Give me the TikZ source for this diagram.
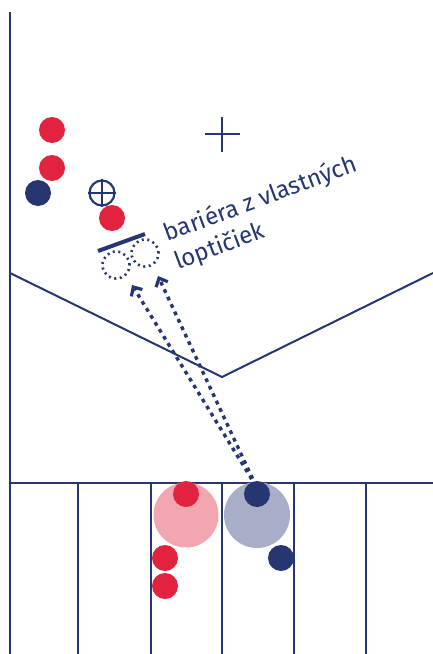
\documentclass[tikz,border=0pt]{standalone}
\usepackage{fontspec}
\setmainfont{Fira Sans}
\usetikzlibrary{arrows.meta}
\definecolor{navy}{HTML}{253670}
\definecolor{ballred}{HTML}{E2233F}
\definecolor{pink}{HTML}{F2A7B0}
\definecolor{greyb}{HTML}{A8AEC7}
\tikzset{
  frame/.style={draw=navy, line width=2pt},
  redball/.style={circle, fill=ballred, minimum size=26pt, inner sep=0pt},
  navyball/.style={circle, fill=navy, minimum size=26pt, inner sep=0pt},
  ghost/.style={circle, draw=navy, line width=2.6pt, dash pattern=on 2pt off 3.6pt, minimum size=27pt, inner sep=0pt},
  shot/.style={draw=navy, line width=3.4pt, dash pattern=on 3.8pt off 4.4pt, -{Straight Barb[length=7pt,width=13pt,line width=3.2pt]}},
  lbl/.style={text=navy, font=\fontsize{24}{30}\selectfont, rotate=20.5, align=left, inner sep=0pt}
}
\begin{document}
\begin{tikzpicture}[x=1pt,y=-1pt]
\useasboundingbox (0,0) rectangle (433,654);
% frame
\draw[frame] (10,12) -- (10,654);
\draw[frame] (10,483) -- (433,483);
\foreach \xx in {78,151,222,294,366} \draw[frame] (\xx,483) -- (\xx,654);
\draw[frame] (10,273) -- (222,377) -- (433,273);
% cross
\draw[frame] (205,134) -- (240,134);
\draw[frame] (222,117) -- (222,152);
% big circles
\node[circle, fill=pink, minimum size=65pt, inner sep=0pt] (pk) at (186,515) {};
\node[circle, fill=greyb, minimum size=66pt, inner sep=0pt] (gr) at (257,515) {};
\node[redball] (rb1) at (186,494) {};
\node[navyball] (nb1) at (257,494) {};
\node[redball] (rb2) at (165,558) {};
\node[redball] (rb3) at (165,586) {};
\node[navyball] (nb2) at (281,558) {};
% upper balls
\node[redball] (u1) at (52,130) {};
\node[redball] (u2) at (52,168) {};
\node[navyball] (u3) at (38,193) {};
\node[redball] (u4) at (112,218) {};
\node[circle, draw=navy, line width=2.2pt, minimum size=25pt, inner sep=0pt] (tgt) at (102,193) {};
\draw[navy, line width=2.2pt] (tgt.north) -- (tgt.south) (tgt.west) -- (tgt.east);
% barrier
\coordinate (bA) at (98,251);
\coordinate (bB) at (145,234);
\draw[navy, line width=4pt] (bA) -- (bB);
\node[ghost] (g1) at (116,265) {};
\node[ghost] (g2) at (145,253) {};
% shots
\coordinate (s0) at (256,486);
\coordinate (t1) at (132,285);
\coordinate (t2) at (158,276);
\draw[shot] (s0) -- (t1);
\draw[shot] (s0) -- (t2);
% label
\node[lbl, anchor=base west] (l1) at (178,270) {bariéra z vlastných\\loptičiek};
\end{tikzpicture}
\end{document}
